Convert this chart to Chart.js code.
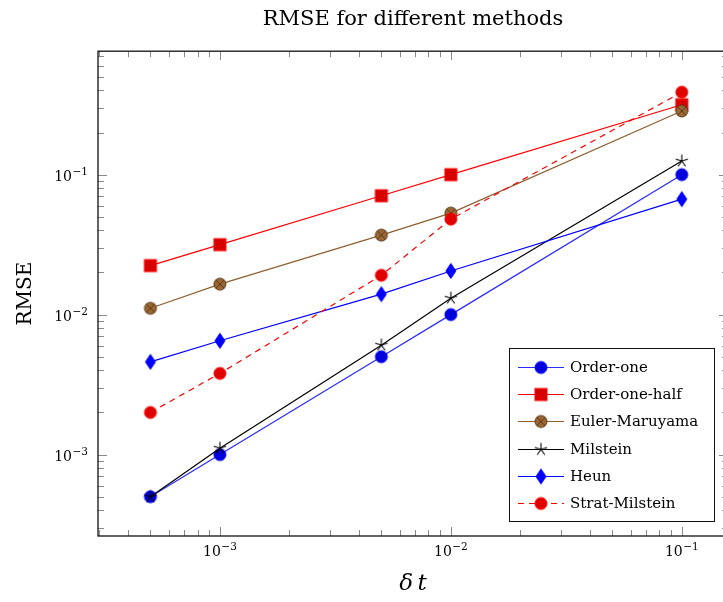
<!DOCTYPE html>
<html><head><meta charset="utf-8">
<script src="https://cdn.jsdelivr.net/npm/chart.js@4.4.1/dist/chart.umd.min.js"></script>
<style>html,body{margin:0;padding:0;overflow:hidden;background:#fff}canvas{display:block}</style>
</head><body>
<canvas id="c" width="740" height="602"></canvas>
<script>
// ---- data ----
const timeSteps = [5e-4, 1e-3, 5e-3, 1e-2, 1e-1];
const orderOne = [5.0e-4, 1.0e-3, 5.0e-3, 1.0e-2, 1.0e-1];
const orderOneHalf = [0.0224, 0.0316, 0.0707, 0.100, 0.316];
const eulerMaruyama = [0.0111, 0.0165, 0.0370, 0.0531, 0.285];
const milstein = [5.0e-4, 1.11e-3, 6.05e-3, 0.0131, 0.125];
const heun = [4.6e-3, 6.5e-3, 0.0140, 0.0205, 0.0668];
const stratMilstein = [2.0e-3, 3.8e-3, 0.0191, 0.0481, 0.388];
const seriesLabels = ['Order-one', 'Order-one-half', 'Euler-Maruyama', 'Milstein', 'Heun', 'Strat-Milstein'];
const seriesValues = [orderOne, orderOneHalf, eulerMaruyama, milstein, heun, stratMilstein];
const tickBase = '10';
const titleText = 'RMSE for different methods';
const xTitle = 'δ\u2009t';
const yTitle = 'RMSE';
const xRange = [2.965e-4, 0.1585];
const yRange = [2.62e-4, 0.762];

// ---- styles ----
const FONT = '"DejaVu Serif", "Liberation Serif", serif';
const lineColors = ['#2a2aff', '#ff0000', '#8f5f30', '#000000', '#0000ff', '#ff0000'];
const dashes = [[], [], [], [], [], [6, 5]];

function makeMarker(kind, fill, stroke) {
  const S = 20, m = S / 2;
  const c = document.createElement('canvas');
  c.width = S; c.height = S;
  const g = c.getContext('2d');
  g.lineWidth = 1; g.fillStyle = fill; g.strokeStyle = stroke;
  if (kind === 'circle' || kind === 'otimes') {
    g.beginPath(); g.arc(m, m, 6, 0, 2 * Math.PI); g.fill(); g.stroke();
    if (kind === 'otimes') {
      const d = 6 * Math.SQRT1_2;
      g.beginPath();
      g.moveTo(m - d, m - d); g.lineTo(m + d, m + d);
      g.moveTo(m + d, m - d); g.lineTo(m - d, m + d);
      g.stroke();
    }
  } else if (kind === 'square') {
    g.fillRect(m - 6, m - 6, 12, 12); g.strokeRect(m - 6, m - 6, 12, 12);
  } else if (kind === 'star') {
    g.lineWidth = 1.1;
    g.beginPath();
    for (let k = 0; k < 5; k++) {
      const a = -Math.PI / 2 + k * 2 * Math.PI / 5;
      g.moveTo(m, m); g.lineTo(m + 6.5 * Math.cos(a), m + 6.5 * Math.sin(a));
    }
    g.stroke();
  } else if (kind === 'diamond') {
    g.beginPath();
    g.moveTo(m, m - 7.5); g.lineTo(m + 5, m); g.lineTo(m, m + 7.5); g.lineTo(m - 5, m); g.closePath();
    g.fill(); g.stroke();
  }
  return c;
}
const markers = [
  makeMarker('circle', '#0000dd', '#0000ff'),
  makeMarker('square', '#d60000', '#ff0000'),
  makeMarker('otimes', '#9a6634', '#5a3a18'),
  makeMarker('star', 'rgba(0,0,0,0)', '#000000'),
  makeMarker('diamond', '#0000ff', '#0000ff'),
  makeMarker('circle', '#e00000', '#ff0000')
];

function isDecade(v) {
  const l = Math.log10(v);
  return Math.abs(l - Math.round(l)) < 1e-9;
}
function expText(v) {
  const e = Math.round(Math.log10(v));
  return (e < 0 ? '\u2212' : '') + Math.abs(e);
}
function decadeTicks(scale) {
  const lo = Math.floor(Math.log10(scale.min)), hi = Math.ceil(Math.log10(scale.max));
  const out = [];
  for (let e = lo; e <= hi; e++) {
    for (let s = 1; s <= 9; s++) {
      const v = s * Math.pow(10, e);
      if (v >= scale.min * 0.99999 && v <= scale.max * 1.00001) out.push({ value: v, major: s === 1 });
    }
  }
  scale.ticks = out;
}

const framePlugin = {
  id: 'frame',
  beforeDatasetsDraw(chart) {
    const { ctx, chartArea: a, scales: { x, y } } = chart;
    ctx.save();
    ctx.strokeStyle = '#8a8a8a'; ctx.lineWidth = 1;
    ctx.beginPath();
    x.ticks.forEach(t => {
      const px = Math.round(x.getPixelForValue(t.value)) + 0.5;
      const L = isDecade(t.value) ? 9 : 6;
      ctx.moveTo(px, a.bottom); ctx.lineTo(px, a.bottom - L);
      ctx.moveTo(px, a.top); ctx.lineTo(px, a.top + L);
    });
    y.ticks.forEach(t => {
      const py = Math.round(y.getPixelForValue(t.value)) + 0.5;
      const L = isDecade(t.value) ? 9 : 6;
      ctx.moveTo(a.left, py); ctx.lineTo(a.left + L, py);
      ctx.moveTo(a.right, py); ctx.lineTo(a.right - L, py);
    });
    ctx.stroke();
    ctx.strokeStyle = '#111'; ctx.lineWidth = 1.3;
    ctx.strokeRect(a.left, a.top, a.right - a.left, a.bottom - a.top);

    // power-of-ten tick labels (base + raised exponent)
    const baseFont = '14px ' + FONT, expFont = '10.5px ' + FONT;
    ctx.fillStyle = '#000'; ctx.textBaseline = 'alphabetic';
    const measure = (v) => {
      ctx.font = baseFont; const wb = ctx.measureText(tickBase).width;
      ctx.font = expFont; const we = ctx.measureText(expText(v)).width;
      return [wb, we];
    };
    const drawLabel = (v, leftX, baseY) => {
      const [wb] = measure(v);
      ctx.font = baseFont; ctx.textAlign = 'left'; ctx.fillText(tickBase, leftX, baseY);
      ctx.font = expFont; ctx.fillText(expText(v), leftX + wb + 0.5, baseY - 6.5);
    };
    x.ticks.forEach(t => {
      if (!isDecade(t.value)) return;
      const px = x.getPixelForValue(t.value);
      const [wb, we] = measure(t.value);
      drawLabel(t.value, px - (wb + we + 0.5) / 2, a.bottom + 20);
    });
    y.ticks.forEach(t => {
      if (!isDecade(t.value)) return;
      const py = y.getPixelForValue(t.value);
      const [wb, we] = measure(t.value);
      drawLabel(t.value, a.left - 10 - (wb + we + 0.5), py + 6.5);
    });
    ctx.restore();
  }
};

const legendPlugin = {
  id: 'boxLegend',
  afterDraw(chart) {
    const { ctx, chartArea: a } = chart;
    const bw = 205, bh = 173;
    const bx = Math.round(a.right - 14 - bw) + 0.5, by = Math.round(a.bottom - 15 - bh) + 0.5;
    ctx.save();
    ctx.fillStyle = '#fff'; ctx.fillRect(bx, by, bw, bh);
    ctx.strokeStyle = '#111'; ctx.lineWidth = 1; ctx.strokeRect(bx, by, bw, bh);
    ctx.font = '15px ' + FONT; ctx.textBaseline = 'middle'; ctx.textAlign = 'left';
    chart.data.datasets.forEach((ds, i) => {
      const cy = Math.round(by + 18.5 + i * 27.2);
      ctx.strokeStyle = ds.borderColor; ctx.lineWidth = 1.2;
      ctx.setLineDash(ds.borderDash || []);
      ctx.beginPath(); ctx.moveTo(bx + 8.5, cy + 0.5); ctx.lineTo(bx + 54.5, cy + 0.5); ctx.stroke();
      ctx.setLineDash([]);
      ctx.drawImage(ds.pointStyle, bx + 31.5 - 10, cy + 0.5 - 10);
      ctx.fillStyle = '#000';
      ctx.fillText(ds.label, bx + 60.5, cy + 1);
    });
    ctx.restore();
  }
};

const datasets = seriesLabels.map((lab, i) => ({
  label: lab,
  data: timeSteps.map((t, j) => ({ x: t, y: seriesValues[i][j] })),
  borderColor: lineColors[i],
  backgroundColor: lineColors[i],
  borderWidth: 1.2,
  borderDash: dashes[i],
  pointStyle: markers[i],
  pointRadius: 7,
  pointHoverRadius: 7,
  fill: false,
  tension: 0,
  order: seriesLabels.length - i
}));

new Chart(document.getElementById('c'), {
  type: 'line',
  data: { datasets },
  options: {
    responsive: false,
    animation: false,
    events: [],
    layout: { padding: { left: 0, right: 12, top: 0, bottom: 0 } },
    plugins: {
      legend: { display: false },
      tooltip: { enabled: false },
      title: {
        display: true, text: titleText, fullSize: false, color: '#000',
        font: { family: FONT, size: 21, weight: 'normal', lineHeight: 1.2 },
        padding: { top: 7, bottom: 19 }
      }
    },
    scales: {
      x: {
        type: 'logarithmic', min: xRange[0], max: xRange[1],
        afterBuildTicks: decadeTicks,
        afterFit: s => { s.height = 66; },
        grid: { display: false, drawTicks: false },
        border: { display: false },
        ticks: { display: false, autoSkip: false, maxRotation: 0 },
        title: { display: true, text: xTitle, color: '#000',
          font: { family: FONT, size: 23, style: 'italic', lineHeight: 1.2 },
          padding: { top: 0, bottom: 4 } }
      },
      y: {
        type: 'logarithmic', min: yRange[0], max: yRange[1],
        afterBuildTicks: decadeTicks,
        afterFit: s => { s.width = 98; },
        grid: { display: false, drawTicks: false },
        border: { display: false },
        ticks: { display: false, autoSkip: false },
        title: { display: true, text: yTitle, color: '#000',
          font: { family: FONT, size: 20, lineHeight: 1.2 },
          padding: { top: 14, bottom: 0 } }
      }
    }
  },
  plugins: [framePlugin, legendPlugin]
});
</script>
</body></html>
